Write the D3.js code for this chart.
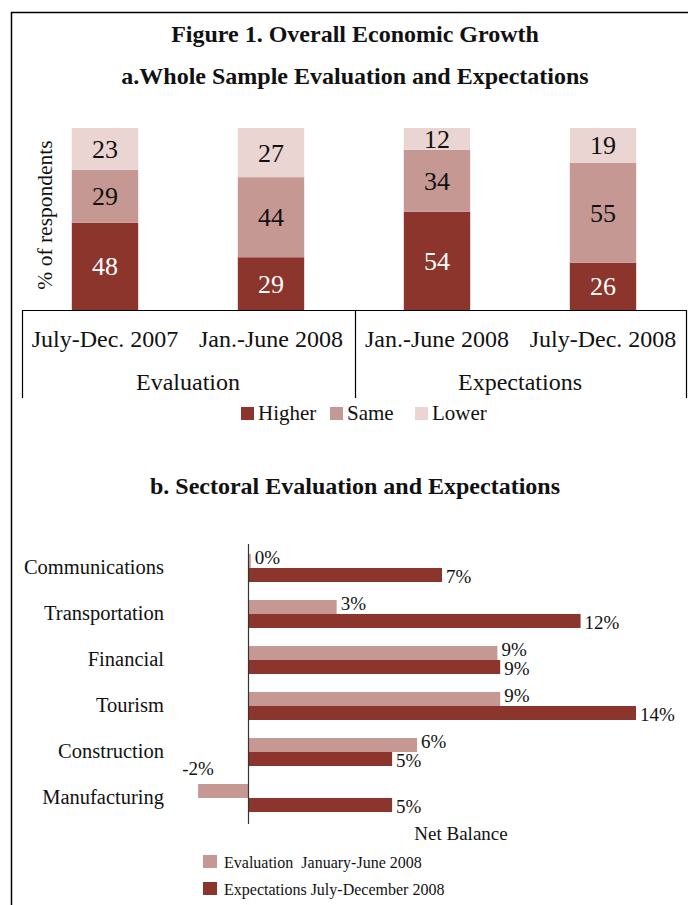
<!DOCTYPE html>
<html><head><meta charset="utf-8">
<script src="https://cdn.jsdelivr.net/npm/d3@7"></script>
<style>body{margin:0;background:#fff}svg{display:block}text{font-family:"Liberation Serif","Times New Roman",serif;fill:#111}</style>
</head><body>
<script>
// ---- Panel a data ----
const periods = ["July-Dec. 2007", "Jan.-June 2008", "Jan.-June 2008 ", "July-Dec. 2008"];
const periodLabels = ["July-Dec. 2007", "Jan.-June 2008", "Jan.-June 2008", "July-Dec. 2008"];
const groups = ["Evaluation", "Expectations"];
const higher = [48, 29, 54, 26];
const same = [29, 44, 34, 55];
const lower = [23, 27, 12, 19];
const answerKeys = ["Higher", "Same", "Lower"];
// ---- Panel b data ----
const sectors = ["Communications", "Transportation", "Financial", "Tourism", "Construction", "Manufacturing"];
const evaluation = [0.1, 3.2, 9.0, 9.1, 6.1, -1.8];
const expectations = [7.0, 12.0, 9.1, 14.0, 5.2, 5.2];
const seriesNames = ["Evaluation  January-June 2008", "Expectations July-December 2008"];

const colDark = "#8B352C", colMid = "#C69893", colLight = "#EAD5D3";

const W = 688, H = 905;
const svg = d3.select("body").append("svg").attr("width", W).attr("height", H);

// Frame
svg.append("line").attr("x1", 11).attr("x2", W).attr("y1", 12.5).attr("y2", 12.5).attr("stroke", "#000").attr("stroke-width", 1.5);
svg.append("line").attr("x1", 11.5).attr("x2", 11.5).attr("y1", 12).attr("y2", H).attr("stroke", "#000").attr("stroke-width", 1.5);

// Titles
svg.append("text").attr("x", 355).attr("y", 42).attr("text-anchor", "middle").style("font-weight", "bold").style("font-size", "24px").text("Figure 1. Overall Economic Growth");
svg.append("text").attr("x", 355).attr("y", 84).attr("text-anchor", "middle").style("font-weight", "bold").style("font-size", "24px").text("a.Whole Sample Evaluation and Expectations");
svg.append("text").attr("x", 355).attr("y", 494).attr("text-anchor", "middle").style("font-weight", "bold").style("font-size", "24px").text("b. Sectoral Evaluation and Expectations");

// ---- Panel a ----
const tableA = periods.map((p, i) => ({period: p, Higher: higher[i], Same: same[i], Lower: lower[i]}));
const stack = d3.stack().keys(answerKeys)(tableA);
const xA = d3.scaleBand().domain(periods).range([22, 686]).paddingInner(0.6).paddingOuter(0.3);
const yA = d3.scaleLinear().domain([0, 100]).range([310, 128]);
const colA = d3.scaleOrdinal().domain(answerKeys).range([colDark, colMid, colLight]);

const gA = svg.append("g");
stack.forEach(layer => {
  gA.selectAll(null).data(layer).join("rect")
    .attr("x", d => xA(d.data.period)).attr("width", xA.bandwidth())
    .attr("y", d => yA(d[1])).attr("height", d => yA(d[0]) - yA(d[1]))
    .attr("fill", colA(layer.key));
  gA.selectAll(null).data(layer).join("text")
    .attr("x", d => xA(d.data.period) + xA.bandwidth() / 2)
    .attr("y", d => (yA(d[0]) + yA(d[1])) / 2 + 9)
    .attr("text-anchor", "middle").style("font-size", "26px")
    .style("fill", layer.key === "Higher" ? "#fff" : "#111")
    .text(d => d.data[layer.key]);
});

// axis + table lines
const axA = svg.append("g").attr("stroke", "#000").attr("stroke-width", 1.2);
axA.append("line").attr("x1", 22).attr("x2", 686).attr("y1", 310.5).attr("y2", 310.5);
[22, 355, 686].forEach(x => axA.append("line").attr("x1", x + 0.5).attr("x2", x + 0.5).attr("y1", 310).attr("y2", 398));
periodLabels.forEach((lab, i) => {
  svg.append("text").attr("x", xA(periods[i]) + xA.bandwidth() / 2).attr("y", 347)
    .attr("text-anchor", "middle").style("font-size", "24px").text(lab);
});
groups.forEach((g, i) => {
  const cx = (xA(periods[i * 2]) + xA(periods[i * 2 + 1]) + xA.bandwidth()) / 2;
  svg.append("text").attr("x", cx).attr("y", 390).attr("text-anchor", "middle").style("font-size", "24px").text(g);
});
svg.append("text").attr("transform", "translate(52,215) rotate(-90)").attr("text-anchor", "middle")
  .style("font-size", "21.5px").text("% of respondents");

// legend a
const legA = [[241, "Higher"], [330, "Same"], [415, "Lower"]];
legA.forEach(([x, k]) => {
  svg.append("rect").attr("x", x).attr("y", 407).attr("width", 13).attr("height", 13).attr("fill", colA(k));
  svg.append("text").attr("x", x + 17).attr("y", 420).style("font-size", "21px").text(k);
});

// ---- Panel b ----
const xB = d3.scaleLinear().domain([0, 14]).range([248, 636]);
const yB = d3.scaleBand().domain(sectors).range([545, 821]);
const sub = d3.scaleBand().domain(["e", "x"]).range([9, 37]);
const gB = svg.append("g");
const rowsB = sectors.map((s, i) => ({s, e: evaluation[i], x: expectations[i]}));

[["e", colMid, -4], ["x", colDark, 1]].forEach(([k, c, dy]) => {
  gB.selectAll(null).data(rowsB).join("rect")
    .attr("x", d => xB(Math.min(0, d[k]))).attr("width", d => Math.abs(xB(d[k]) - xB(0)))
    .attr("y", d => yB(d.s) + sub(k)).attr("height", sub.bandwidth())
    .attr("fill", c);
  gB.selectAll(null).data(rowsB).join("text")
    .attr("x", d => d[k] < 0 ? xB(d[k]) : xB(d[k]) + 4)
    .attr("y", d => d[k] < 0 ? yB(d.s) + sub(k) - 9 : yB(d.s) + sub(k) + sub.bandwidth() + dy)
    .attr("text-anchor", d => d[k] < 0 ? "middle" : "start")
    .style("font-size", "19px")
    .text(d => Math.round(d[k]) + "%");
});
svg.append("line").attr("x1", 248.5).attr("x2", 248.5).attr("y1", 544).attr("y2", 824).attr("stroke", "#333").attr("stroke-width", 1.2);
sectors.forEach(s => {
  svg.append("text").attr("x", 164).attr("y", yB(s) + yB.bandwidth() / 2 + 6)
    .attr("text-anchor", "end").style("font-size", "20.5px").text(s);
});
svg.append("text").attr("x", 461).attr("y", 840).attr("text-anchor", "middle").style("font-size", "19px").text("Net Balance");

// legend b
seriesNames.forEach((n, i) => {
  svg.append("rect").attr("x", 203).attr("y", 855 + i * 27).attr("width", 14).attr("height", 13).attr("fill", i === 0 ? colMid : colDark);
  svg.append("text").attr("x", 224).attr("y", 868 + i * 27).style("font-size", "16px").style("white-space", "pre").text(n);
});
</script>
</body></html>
